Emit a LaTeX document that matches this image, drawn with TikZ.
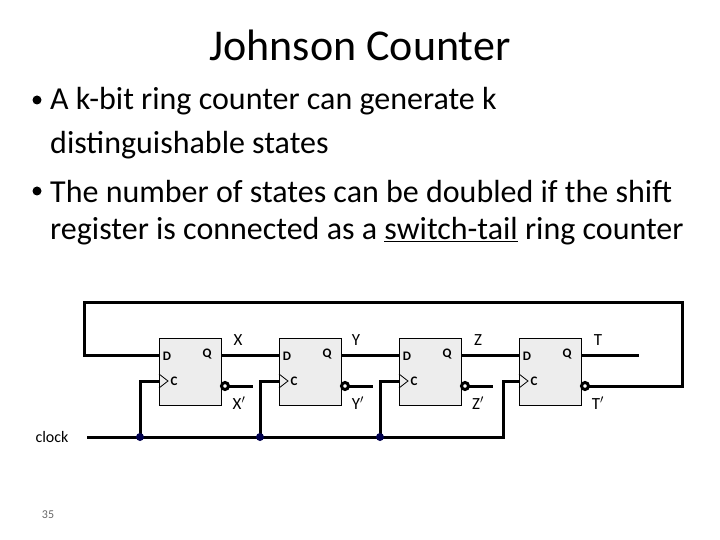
\documentclass[tikz,border=0pt]{standalone}
\usepackage{fontspec}
\setmainfont{Carlito}
\usetikzlibrary{positioning}
\begin{document}
\begin{tikzpicture}[x=1pt,y=-1pt,
  ff/.style={rectangle,draw=black,line width=1pt,fill=black!7,minimum width=62pt,minimum height=67pt,inner sep=0pt},
  wire/.style={line width=3pt},
  pin/.style={font=\bfseries\fontsize{13}{13}\selectfont,inner sep=0pt},
  lbl/.style={font=\fontsize{17}{17}\selectfont,inner sep=0pt},
  txt/.style={anchor=west,inner sep=0pt,font=\fontsize{32}{32}\selectfont},
  bulletdot/.style={circle,fill=black,inner sep=0pt,minimum size=9pt},
  tap/.style={circle,fill=blue!30!black,inner sep=0pt,minimum size=8pt}]
\useasboundingbox (0,0) rectangle (720,540);
\node (title) at (360,45) {\fontsize{44}{44}\selectfont Johnson Counter};
\node[bulletdot] (m1) at (37,100) {};
\node[txt] (l1) at (50,101) {A k-bit ring counter can generate k};
\node[txt] (l2) at (50,145) {distinguishable states};
\node[bulletdot] (m2) at (37,191) {};
\node[txt] (l3) at (50,192) {The number of states can be doubled if the shift};
\node[txt] (l4) at (50,231) {register is connected as a \underline{switch-tail} ring counter};
% flip-flops
\foreach \n/\x in {1/190,2/310,3/430,4/550} {
  \node[ff] (f\n) at (\x,371.5) {};
  \node[pin] at (\x-23,356) {D};
  \node[pin] at (\x+17,354) {Q};
  \node[pin] at (\x-16,381) {C};
  \draw[line width=0.8pt] (\x-31,374) -- (\x-22,381) -- (\x-31,388);
  \coordinate (q\n) at (\x+31,355);
  \coordinate (d\n) at (\x-31,355);
  \coordinate (c\n) at (\x-31,381);
  \coordinate (nq\n) at (\x+39,386);
}
\node[lbl] at (238,340) {X}; \node[lbl] at (239,403) {X$'$};
\node[lbl] at (356,340) {Y}; \node[lbl] at (358,403) {Y$'$};
\node[lbl] at (478,340) {Z}; \node[lbl] at (478,403) {Z$'$};
\node[lbl] at (598,340) {T}; \node[lbl] at (598,403) {T$'$};
% data path
\draw[wire] (q1) -- (d2);
\draw[wire] (q2) -- (d3);
\draw[wire] (q3) -- (d4);
\draw[wire] (q4) -- (639,355);
\draw[wire] (nq1) -- (253,386);
\draw[wire] (nq2) -- (373,386);
\draw[wire] (nq3) -- (493,386);
\draw[wire] (nq4) -- (682,386) -- (682,302) -- (84,302) -- (84,355) -- (d1);
\foreach \x in {190,310,430,550}
  \draw[wire,fill=white] (\x+35,386) circle (3.5pt);
% clock
\node[font=\fontsize{16}{16}\selectfont] (clk) at (52,437) {clock};
\draw[wire] (87,437) -- (503,437) -- (503,381) -- (c4);
\draw[wire] (140,437) |- (c1);
\draw[wire] (260,437) |- (c2);
\draw[wire] (380,437) |- (c3);
\node[tap] (t1) at (140,437) {};
\node[tap] (t2) at (260,437) {};
\node[tap] (t3) at (380,437) {};
\node[font=\fontsize{12}{12}\selectfont,text=black!60] (pg) at (48,515) {35};
\end{tikzpicture}
\end{document}
